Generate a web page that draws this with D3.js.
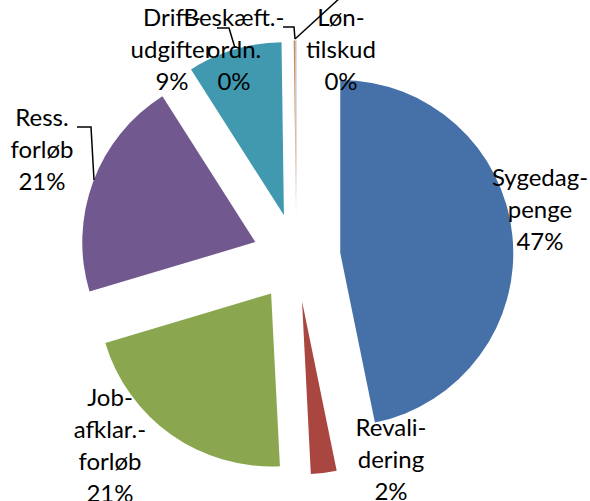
<!DOCTYPE html>
<html>
<head>
<meta charset="utf-8">
<script src="https://cdn.jsdelivr.net/npm/d3@7"></script>
<style>
  html, body { margin: 0; padding: 0; background: #fff; }
  svg { display: block; }
</style>
</head>
<body>
<svg id="chart" width="590" height="501"></svg>
<script>
// ---- data ----
const categories = ["Sygedagpenge", "Revalidering", "Jobafklaringsforløb", "Ressourceforløb", "Driftudgifter", "Beskæft. ordn.", "Løntilskud"];
const values = [46.8, 2.4, 21.2, 20.6, 8.8, 0.12, 0.1];
const labelLines = [
  ["Sygedag-", "penge", "47%"],
  ["Revali-", "dering", "2%"],
  ["Job-", "afklar.-", "forløb", "21%"],
  ["Ress.", "forløb", "21%"],
  ["Drift-", "udgifter", "9%"],
  ["Beskæft.-", "ordn.", "0%"],
  ["Løn-", "tilskud", "0%"]
];
const colors = ["#4570A8", "#A8463F", "#8AA64E", "#71588F", "#4199AF", "#E0883A", "#8FAAD3"];

// ---- layout ----
const W = 590, H = 501;
const cx = 296.5, cy = 257.5, R = 173, explode = 44;
const labelPos = [
  [540, 178], [391, 428], [110, 398], [42, 118], [172, 18], [234, 18], [341, 18]
];
const lineH = 32;

const svg = d3.select("#chart");
const pie = d3.pie().sort(null).value(d => d)(values);
const arc = d3.arc().innerRadius(0).outerRadius(R);

const g = svg.append("g").attr("transform", `translate(${cx},${cy})`);
g.selectAll("path").data(pie).join("path")
  .attr("d", arc)
  .attr("fill", (d, i) => colors[i])
  .attr("transform", d => {
    const a = (d.startAngle + d.endAngle) / 2;
    return `translate(${explode * Math.sin(a)},${-explode * Math.cos(a)})`;
  });

// leader lines
const leaders = [
  [[77, 127], [91, 127], [94, 180]],
  [[217, 28], [229, 28], [235, 48]],
  [[283, 27], [294, 27], [295, 39]],
  [[295, 39], [341, -3]]
];
svg.selectAll("path.leader").data(leaders).join("path")
  .attr("class", "leader")
  .attr("d", d3.line())
  .attr("fill", "none")
  .attr("stroke", "#000")
  .attr("stroke-width", 1.5);

// labels
const lbl = svg.selectAll("text.lbl").data(labelLines).join("text")
  .attr("class", "lbl")
  .attr("text-anchor", "middle")
  .attr("font-family", "Lato, 'Open Sans', sans-serif")
  .attr("font-size", 24)
  .attr("fill", "#000");
lbl.each(function(lines, i) {
  const t = d3.select(this);
  lines.forEach((s, k) => {
    t.append("tspan")
      .attr("x", labelPos[i][0])
      .attr("y", labelPos[i][1] + k * lineH)
      .attr("dy", "0.35em")
      .text(s);
  });
});
</script>
</body>
</html>
